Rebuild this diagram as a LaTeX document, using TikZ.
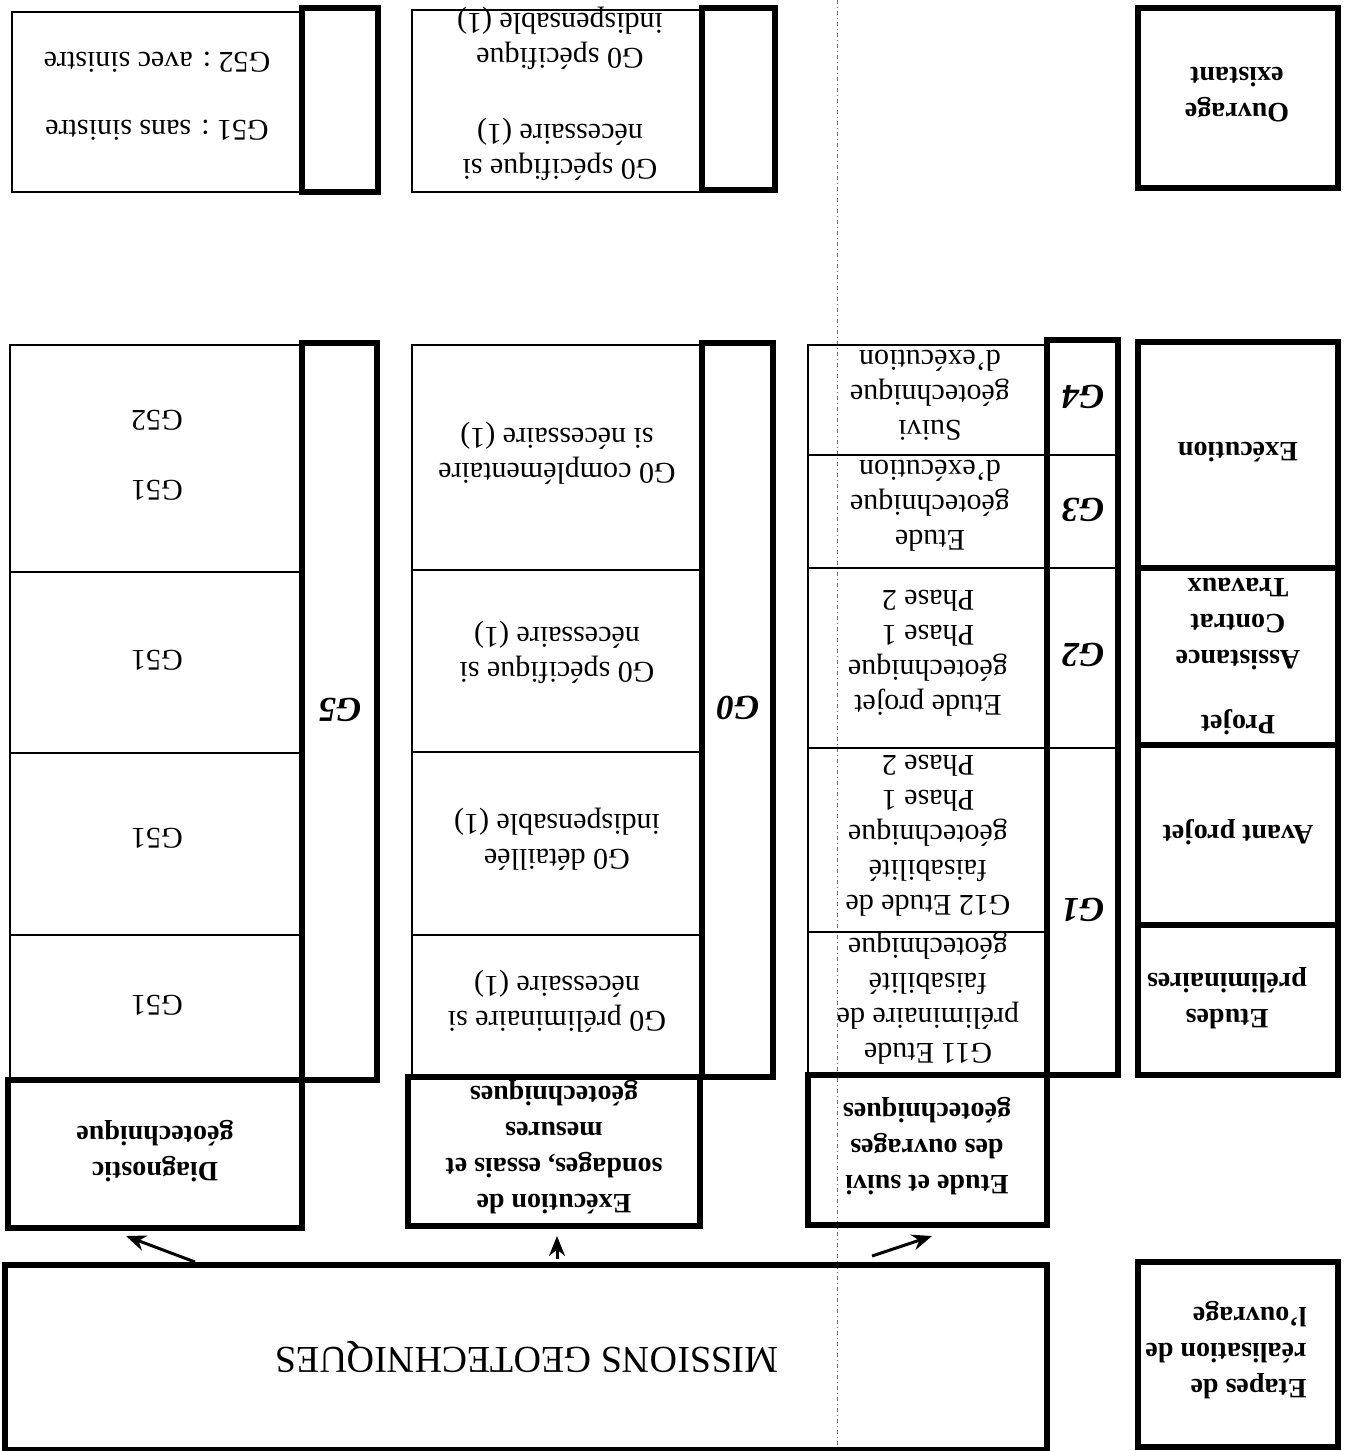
\documentclass[tikz,border=0pt]{standalone}
\usepackage{fontspec}
\setmainfont{Liberation Serif}
\usetikzlibrary{arrows.meta}
\newcommand\bodysize{\fontsize{30}{35}\selectfont}
\newcommand\boldsize{\fontsize{28}{36}\selectfont}
\begin{document}
\begin{tikzpicture}[x=1pt,y=-1pt,
  thk/.style={draw, line width=5.5pt, inner sep=0pt, rotate=180},
  thn/.style={draw, line width=1.8pt, inner sep=0pt, rotate=180},
  txt/.style={rotate=180, align=center, inner sep=0pt, font=\bodysize},
  btxt/.style={rotate=180, align=center, inner sep=0pt, font=\boldsize\bfseries},
  glab/.style={rotate=180, inner sep=0pt, font=\fontsize{35}{40}\selectfont\bfseries\itshape},
  arr/.style={line width=3pt, -{Stealth[length=20pt,width=16pt]}},
  guide/.style={draw=black!55, line width=1pt, dash pattern=on 4pt off 3pt on 1pt off 3pt}
]
\useasboundingbox (0,0) rectangle (1344,1451);

% guide line
\coordinate (gtop) at (837,0);
\coordinate (gbot) at (837,1451);
\draw[guide] (gtop) -- (gbot);

% ---------- stage column ----------
\node[thk, minimum width=200pt, minimum height=180pt] (ouv) at (1238,98) {};
\node[btxt] (ouvT) at (1237,95) {Ouvrage\\existant};
\node[thk, minimum width=200pt, minimum height=226pt] (exeS) at (1238,455) {};
\node[btxt] (exeST) at (1238,452) {Exécution};
\node[thk, minimum width=200pt, minimum height=177pt] (proj) at (1238,656.5) {};
\node[btxt] (projT) at (1238,722) {Projet};
\node[btxt] (assT) at (1238,624) {Assistance\\Contrat\\Travaux};
\node[thk, minimum width=200pt, minimum height=180pt] (avp) at (1238,835) {};
\node[btxt] (avpT) at (1238,832) {Avant projet};
\node[thk, minimum width=200pt, minimum height=150pt] (etp) at (1238,1000) {};
\node[btxt] (etpT) at (1227,998) {Etudes\\préliminaires};
\node[thk, minimum width=200pt, minimum height=185pt] (etap) at (1238,1354.5) {};
\node[btxt, align=left] (etapT) at (1226,1350) {Etapes de\\réalisation de\\l’ouvrage};

% ---------- G1-G4 ----------
\node[thk, minimum width=71pt, minimum height=735pt] (gcol) at (1082.5,707.5) {};
\coordinate (gl1a) at (1047,455); \coordinate (gl1b) at (1118,455);
\coordinate (gl2a) at (1047,568); \coordinate (gl2b) at (1118,568);
\coordinate (gl3a) at (1047,748); \coordinate (gl3b) at (1118,748);
\draw[line width=1.8pt] (gl1a) -- (gl1b);
\draw[line width=1.8pt] (gl2a) -- (gl2b);
\draw[line width=1.8pt] (gl3a) -- (gl3b);
\node[glab] (g4) at (1083,397) {G4};
\node[glab] (g3) at (1083,510) {G3};
\node[glab] (g2) at (1083,655) {G2};
\node[glab] (g1) at (1083,910) {G1};

\node[thn, minimum width=239pt, minimum height=110pt] (c4) at (927.5,400) {};
\node[thn, minimum width=239pt, minimum height=113pt] (c3) at (927.5,511.5) {};
\node[thn, minimum width=239pt, minimum height=180pt] (c2) at (927.5,658) {};
\node[thn, minimum width=239pt, minimum height=184pt] (c12) at (927.5,840) {};
\node[thn, minimum width=239pt, minimum height=143pt] (c11) at (927.5,1003.5) {};
\node[txt] (c4T) at (930,395) {Suivi\\géotechnique\\d’exécution};
\node[txt] (c3T) at (930,506) {Etude\\géotechnique\\d’exécution};
\node[txt] (c2T) at (928,653) {Etude projet\\géotechnique\\Phase 1\\Phase 2};
\node[txt] (c12T) at (928,836) {G12 Etude de\\faisabilité\\géotechnique\\Phase 1\\Phase 2};
\node[txt] (c11T) at (928,998) {G11 Etude\\préliminaire de\\faisabilité\\géotechnique};
\node[thk, minimum width=239pt, minimum height=150pt] (suivi) at (927.5,1150) {};
\node[btxt] (suiviT) at (927,1146) {Etude et suivi\\des ouvrages\\géotechniques};

% ---------- G0 ----------
\node[thk, minimum width=71pt, minimum height=734pt] (g0col) at (737.5,710) {};
\node[glab] (g0) at (738,708) {G0};
\node[thk, minimum width=73pt, minimum height=182pt] (g0top) at (738.5,99) {};
\node[thn, minimum width=290pt, minimum height=225pt] (d1) at (557,457.5) {};
\node[thn, minimum width=290pt, minimum height=182pt] (d2) at (557,661) {};
\node[thn, minimum width=290pt, minimum height=183pt] (d3) at (557,843.5) {};
\node[thn, minimum width=290pt, minimum height=142pt] (d4) at (557,1006) {};
\node[txt] (d1T) at (557,453) {G0 complémentaire\\si nécessaire (1)};
\node[txt] (d2T) at (557,652) {G0 spécifique si\\nécessaire (1)};
\node[txt] (d3T) at (557,839) {G0 détaillée\\indispensable (1)};
\node[txt] (d4T) at (557,1001) {G0 préliminaire si\\nécessaire (1)};
\node[thn, minimum width=290pt, minimum height=182pt] (dtop) at (557,101) {};
\node[txt] (dtopA) at (560,149) {G0 spécifique si\\nécessaire (1)};
\node[txt] (dtopB) at (560,38) {G0 spécifique\\indispensable (1)};
\node[thk, minimum width=292pt, minimum height=149pt] (sond) at (554,1151.5) {};
\node[btxt] (sondT) at (554,1147) {Exécution de\\sondages, essais et\\mesures\\géotechniques};

% ---------- G5 ----------
\node[thk, minimum width=75pt, minimum height=737pt] (g5col) at (339.5,711.5) {};
\node[glab] (g5) at (340,710) {G5};
\node[thk, minimum width=76pt, minimum height=184pt] (g5top) at (340,100) {};
\node[thn, minimum width=292pt, minimum height=227pt] (e1) at (156,458.5) {};
\node[thn, minimum width=292pt, minimum height=181pt] (e2) at (156,662.5) {};
\node[thn, minimum width=292pt, minimum height=182pt] (e3) at (156,844) {};
\node[thn, minimum width=292pt, minimum height=145pt] (e4) at (156,1007.5) {};
\node[txt] (e1a) at (157,490) {G51};
\node[txt] (e1b) at (157,420) {G52};
\node[txt] (e2T) at (157,660) {G51};
\node[txt] (e3T) at (157,838) {G51};
\node[txt] (e4T) at (157,1005) {G51};
\node[thn, minimum width=290pt, minimum height=180pt] (etop) at (157,102) {};
\node[txt] (etopA) at (157,130) {G51 : sans sinistre};
\node[txt] (etopB) at (157,62) {G52 : avec sinistre};
\node[thk, minimum width=294pt, minimum height=148pt] (diag) at (155,1154) {};
\node[btxt] (diagT) at (155,1151) {Diagnostic\\géotechnique};

% ---------- missions ----------
\node[thk, minimum width=1042pt, minimum height=185pt] (miss) at (526,1357.5) {};
\node[txt, font=\fontsize{38}{42}\selectfont] (missT) at (527,1357) {MISSIONS GEOTECHNIQUES};

% arrows
\coordinate (a1s) at (195,1262); \coordinate (a1e) at (126,1236);
\coordinate (a2s) at (557,1259); \coordinate (a2e) at (557,1236);
\coordinate (a3s) at (872,1256); \coordinate (a3e) at (932,1236);
\draw[arr] (a1s) -- (a1e);
\draw[arr] (a2s) -- (a2e);
\draw[arr] (a3s) -- (a3e);
\end{tikzpicture}
\end{document}
